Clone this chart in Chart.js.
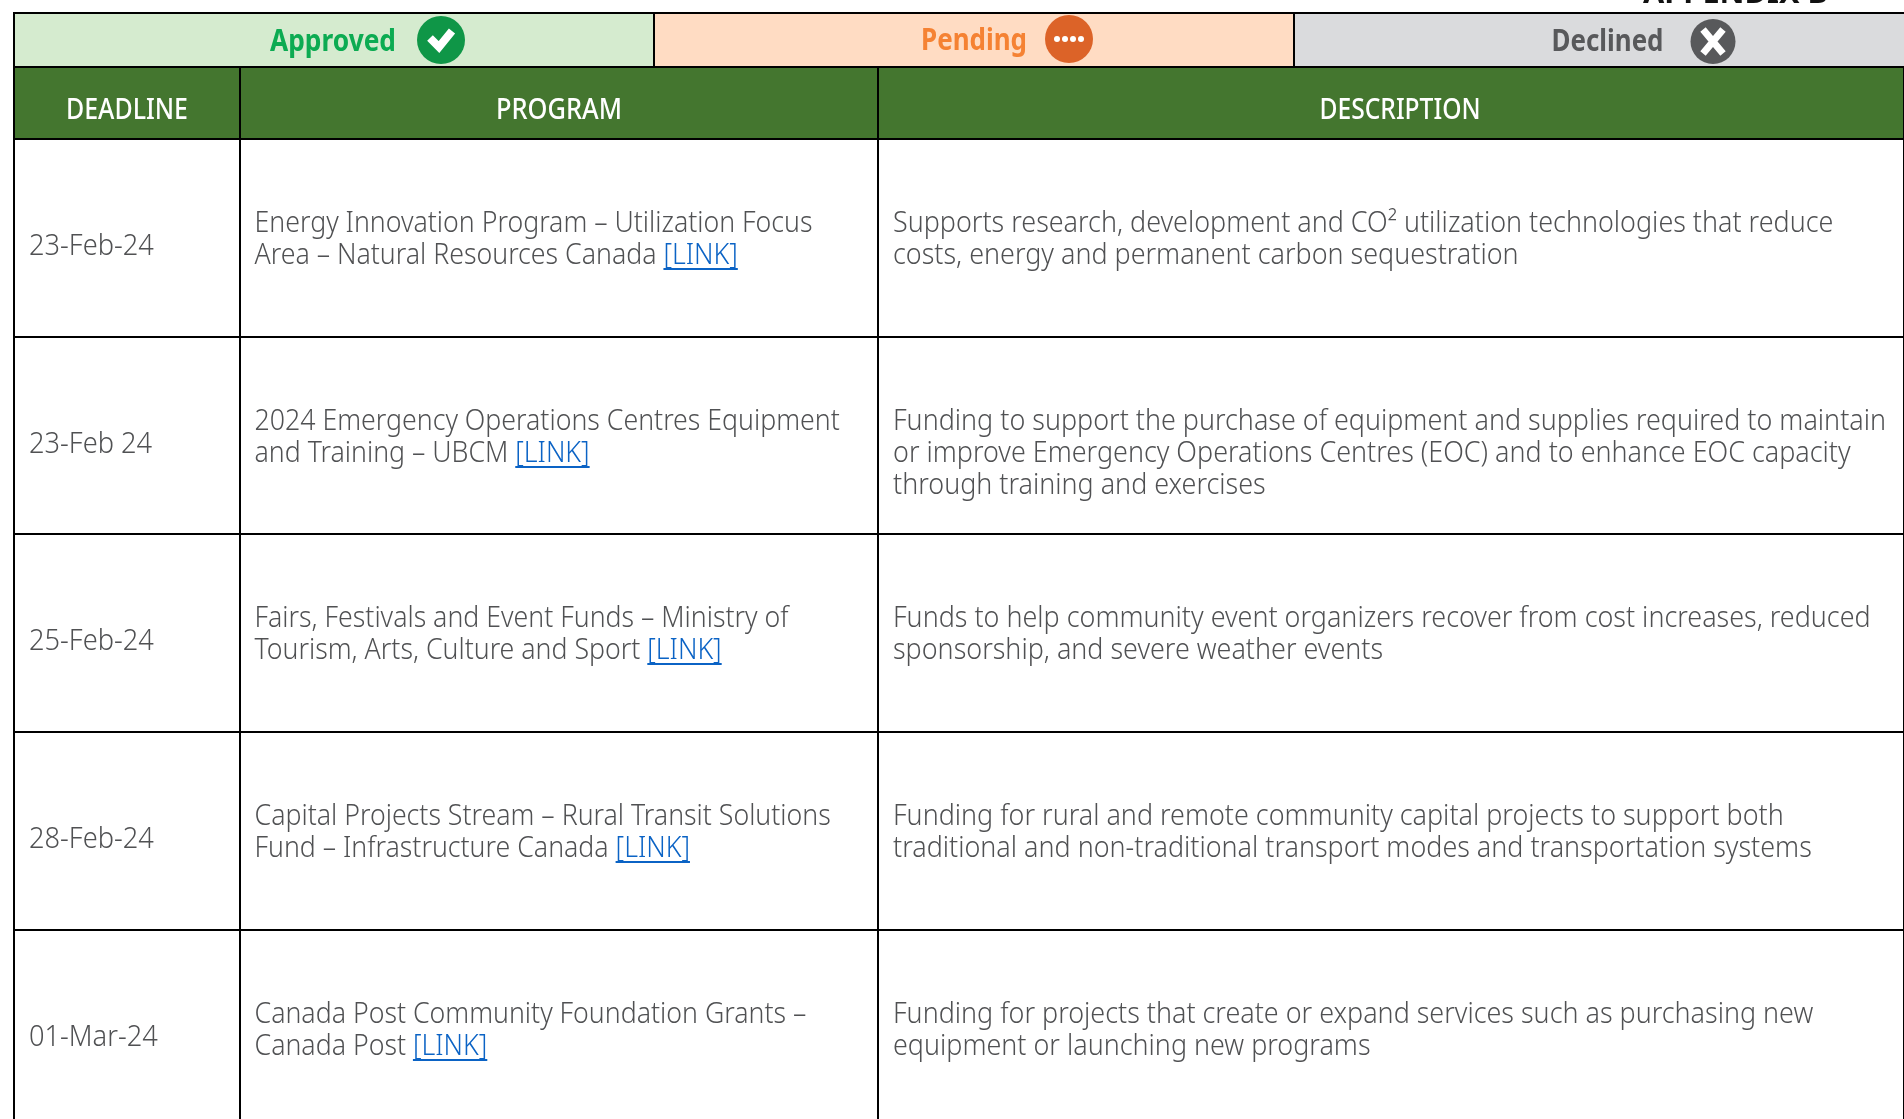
<!DOCTYPE html>
<html>
<head>
<meta charset="utf-8">
<title>Funding programs</title>
<script src="https://cdn.jsdelivr.net/npm/chart.js@4"></script>
<style>
    html, body { margin: 0; background: #fff; overflow: hidden; }
    canvas { display: block; }
</style>
</head>
<body>
<canvas id="table" width="1904" height="1119"></canvas>
<script>
/* DATA */
let deadlines = ["23-Feb-24", "23-Feb 24", "25-Feb-24", "28-Feb-24", "01-Mar-24"];
let programs = [
    ["Energy Innovation Program – Utilization Focus", "Area – Natural Resources Canada"],
    ["2024 Emergency Operations Centres Equipment", "and Training – UBCM"],
    ["Fairs, Festivals and Event Funds – Ministry of", "Tourism, Arts, Culture and Sport"],
    ["Capital Projects Stream – Rural Transit Solutions", "Fund – Infrastructure Canada"],
    ["Canada Post Community Foundation Grants –", "Canada Post"]
];
let descriptions = [
    ["Supports research, development and CO² utilization technologies that reduce", "costs, energy and permanent carbon sequestration"],
    ["Funding to support the purchase of equipment and supplies required to maintain", "or improve Emergency Operations Centres (EOC) and to enhance EOC capacity", "through training and exercises"],
    ["Funds to help community event organizers recover from cost increases, reduced", "sponsorship, and severe weather events"],
    ["Funding for rural and remote community capital projects to support both", "traditional and non-traditional transport modes and transportation systems"],
    ["Funding for projects that create or expand services such as purchasing new", "equipment or launching new programs"]
];
let headers = ["DEADLINE", "PROGRAM", "DESCRIPTION"];
let statuses = ["Approved", "Pending", "Declined"];
let linkText = "[LINK]";

/* TABLE GEOMETRY, the axes run in canvas pixels */
let columnEdges = [14, 240, 878, 1904];
let rowEdges = [67, 139, 337, 534, 732, 930];
let statusEdges = [14, 654, 1294, 1904];
let stripTop = 13;

let textColor = "#505153";
let linkColor = "#0b63c5";
let statusFills = ["#d5ebcf", "#ffdcc3", "#dadbdd"];
let statusColors = ["#0cab52", "#f58233", "#58595b"];
let statusMarks = ["#0f9647", "#dc6328", "#58595b"];

let bodyFont = "300 29px 'Noto Sans'";
let headFont = "500 29px 'Noto Sans'";
let statusFont = "700 30px 'Noto Sans'";

/* squeezes text sideways, the original face is narrower than Noto Sans */
function drawText(ctx, text, x, y, squeeze) {
    ctx.save();
    ctx.translate(x, y);
    ctx.scale(squeeze, 1);
    ctx.textAlign = "left";
    ctx.textBaseline = "alphabetic";
    ctx.fillText(text, 0, 0);
    ctx.restore();
}

function fitSqueeze(ctx, font, text, width) {
    ctx.font = font;
    return width / ctx.measureText(text).width;
}

function drawCentered(ctx, text, cx, y, width) {
    let squeeze = width / ctx.measureText(text).width;
    drawText(ctx, text, cx - width / 2, y, squeeze);
}

/* HEADER fill goes under the grid */
let headerPlugin = {
    id: "headerFill",
    beforeDraw(chart) {
        let ctx = chart.ctx;
        let x = chart.scales.x;
        let y = chart.scales.y;
        ctx.fillStyle = "#44762f";
        ctx.fillRect(x.getPixelForValue(columnEdges[0]), y.getPixelForValue(rowEdges[0]),
            x.getPixelForValue(columnEdges[3]) - x.getPixelForValue(columnEdges[0]),
            y.getPixelForValue(rowEdges[1]) - y.getPixelForValue(rowEdges[0]));
    }
};

/* STATUS STRIP covers the column lines that run up through it */
let stripPlugin = {
    id: "statusStrip",
    beforeDatasetsDraw(chart) {
        let ctx = chart.ctx;
        let x = chart.scales.x;
        let y = chart.scales.y;
        let top = y.getPixelForValue(stripTop);
        let bottom = y.getPixelForValue(rowEdges[0]) - 1;

        statusFills.forEach((color, i) => {
            ctx.fillStyle = color;
            ctx.fillRect(x.getPixelForValue(statusEdges[i]), top,
                x.getPixelForValue(statusEdges[i + 1]) - x.getPixelForValue(statusEdges[i]),
                bottom - top);
        });

        ctx.fillStyle = "#000";
        ctx.fillRect(x.getPixelForValue(statusEdges[0]) - 1, top - 1, chart.width, 2);
        statusEdges.slice(0, 3).forEach(edge => {
            ctx.fillRect(x.getPixelForValue(edge) - 1, top, 2, bottom - top);
        });
    }
};

/* TEXT */
let textPlugin = {
    id: "cellText",
    afterDraw(chart) {
        let ctx = chart.ctx;
        let x = chart.scales.x;
        let y = chart.scales.y;

        // APPENDIX title, cut off by the top of the page
        ctx.fillStyle = "#111";
        ctx.font = "700 29px 'Noto Sans'";
        drawCentered(ctx, "APPENDIX B", 1735.5, 3, 185);

        // status strip
        let statusX = [333, 974, 1607.5];
        let statusBase = [51, 50, 51];
        let statusW = [126, 106, 112];
        statuses.forEach((s, i) => {
            ctx.font = statusFont;
            ctx.fillStyle = statusColors[i];
            drawCentered(ctx, s, statusX[i], statusBase[i], statusW[i]);
        });

        // header row
        ctx.font = headFont;
        ctx.fillStyle = "#fff";
        let headX = [127, 559, 1400];
        let headW = [122, 126, 161];
        headers.forEach((h, i) => drawCentered(ctx, h, headX[i], 118.5, headW[i]));

        // body rows
        let squeeze = fitSqueeze(ctx, bodyFont, programs[0][0], 558);
        let dateSqueeze = squeeze * 1.02;
        let descSqueeze = squeeze * 1.008;
        deadlines.forEach((d, r) => {
            let top = y.getPixelForValue(rowEdges[r + 1]);
            ctx.font = bodyFont;
            ctx.fillStyle = textColor;
            drawText(ctx, d, x.getPixelForValue(columnEdges[0]) + 15, top + 115.5, dateSqueeze);

            let progX = x.getPixelForValue(columnEdges[1]) + 14.5;
            programs[r].forEach((line, l) => {
                drawText(ctx, line, progX, top + 93 + l * 32, squeeze);
            });
            descriptions[r].forEach((line, l) => {
                drawText(ctx, line, x.getPixelForValue(columnEdges[2]) + 15, top + 93 + l * 32, descSqueeze);
            });

            let last = programs[r][programs[r].length - 1];
            let linkX = progX + ctx.measureText(last + " ").width * squeeze;
            let linkBase = top + 93 + (programs[r].length - 1) * 32;
            ctx.fillStyle = linkColor;
            drawText(ctx, linkText, linkX, linkBase, squeeze);
            ctx.fillRect(linkX, linkBase + 4, ctx.measureText(linkText).width * squeeze, 2);
        });

        // marks inside the status circles
        let marks = chart.getDatasetMeta(0).data;
        ctx.strokeStyle = "#fff";
        ctx.fillStyle = "#fff";

        let ok = marks[0];
        ctx.lineWidth = 8;
        ctx.beginPath();
        ctx.moveTo(ok.x - 11, ok.y - 2);
        ctx.lineTo(ok.x - 2, ok.y + 7);
        ctx.lineTo(ok.x + 11, ok.y - 9);
        ctx.stroke();

        let wait = marks[1];
        [-12, -4, 4, 12].forEach(dx => {
            ctx.beginPath();
            ctx.arc(wait.x + dx, wait.y, 3, 0, Math.PI * 2);
            ctx.fill();
        });

        let no = marks[2];
        ctx.lineWidth = 7;
        ctx.beginPath();
        ctx.moveTo(no.x - 10, no.y - 12);
        ctx.lineTo(no.x + 10, no.y + 12);
        ctx.moveTo(no.x + 10, no.y - 12);
        ctx.lineTo(no.x - 10, no.y + 12);
        ctx.stroke();
    }
};

/* CHART */
let markX = [441, 1069, 1713];
let markY = [40, 39, 41.5];
let markR = [24, 24, 22.5];

new Chart(document.getElementById("table"), {
    type: "scatter",
    data: {
        datasets: [{
            data: markX.map((v, i) => ({ x: v, y: markY[i] })),
            backgroundColor: statusMarks,
            borderWidth: 0,
            pointRadius: markR,
            pointHoverRadius: markR,
            clip: false
        }]
    },
    options: {
        responsive: false,
        animation: false,
        layout: { autoPadding: false, padding: { left: 14, top: 13, right: 0, bottom: 0 } },
        events: [],
        plugins: { legend: { display: false }, tooltip: { enabled: false } },
        scales: {
            x: {
                type: "linear",
                min: 14,
                max: 1904,
                afterBuildTicks: axis => { axis.ticks = columnEdges.map(v => ({ value: v })); },
                ticks: { display: false },
                border: { display: false },
                grid: { color: "#000", lineWidth: 2, drawTicks: false }
            },
            y: {
                type: "linear",
                reverse: true,
                min: 13,
                max: 1119,
                afterBuildTicks: axis => { axis.ticks = rowEdges.map(v => ({ value: v })); },
                ticks: { display: false },
                border: { display: false },
                grid: { color: "#000", lineWidth: 2, drawTicks: false }
            }
        }
    },
    plugins: [headerPlugin, stripPlugin, textPlugin]
});
</script>
</body>
</html>
